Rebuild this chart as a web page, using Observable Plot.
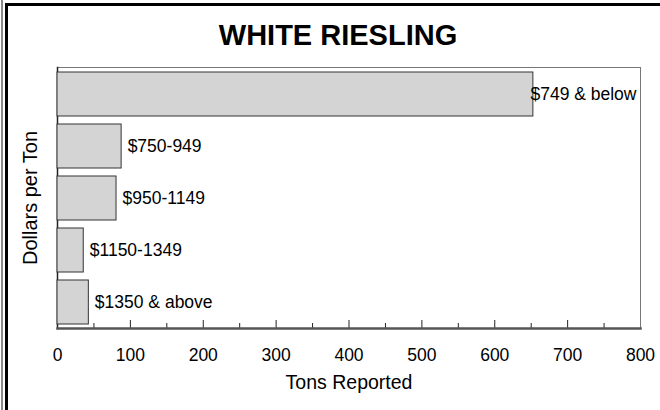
<!DOCTYPE html>
<html>
<head>
<meta charset="utf-8">
<script src="https://cdn.jsdelivr.net/npm/d3@7"></script>
<script src="https://cdn.jsdelivr.net/npm/@observablehq/plot@0.6"></script>
<style>
  html, body { margin: 0; padding: 0; background: #fff; }
  #wrap { position: relative; width: 660px; height: 410px; overflow: hidden; background: #fff; font-family: "Liberation Sans", Arial, sans-serif; }
  .edge { position: absolute; }
  #title { position: absolute; left: 0; top: 19px; width: 676px; text-align: center; font-weight: bold; font-size: 29px; color: #000; line-height: 32px; }
  #chart { position: absolute; left: 0; top: 60px; }
</style>
</head>
<body>
<div id="wrap">
  <div class="edge" style="left:1px;top:0;width:1.5px;height:410px;background:#8a8a8a"></div>
  <div class="edge" style="left:5px;top:3px;width:3px;height:407px;background:#000"></div>
  <div class="edge" style="left:5px;top:3px;width:655px;height:3px;background:#000"></div>
  <div id="title">WHITE RIESLING</div>
  <div id="chart"></div>
</div>
<script>
// Data
const categories = ["$749 & below", "$750-949", "$950-1149", "$1150-1349", "$1350 & above"];
const tons = [653, 88, 81, 36, 43];
const xTicks = [0, 100, 200, 300, 400, 500, 600, 700, 800];
const minorTicks = [50, 150, 250, 350, 450, 550, 650, 750];

const data = categories.map((c, i) => ({category: c, tons: tons[i]}));

const W = 660, H = 350;
const mTop = 7, mBottom = 82, mLeft = 57, mRight = 20;
const frameH = H - mTop - mBottom;

const chart = Plot.plot({
  width: W,
  height: H,
  marginTop: mTop,
  marginBottom: mBottom,
  marginLeft: mLeft,
  marginRight: mRight,
  style: {fontFamily: "'Liberation Sans', Arial, sans-serif", color: "#000", background: "transparent"},
  x: {domain: [0, 800]},
  y: {domain: categories, paddingInner: 0.16, paddingOuter: 0.07},
  marks: [
    Plot.frame({stroke: "#777", strokeWidth: 1}),
    Plot.frame({anchor: "left", stroke: "#222", strokeWidth: 1.5}),
    Plot.barX(data, {y: "category", x: "tons", fill: "#d4d4d4", stroke: "#333", strokeWidth: 1}),
    Plot.tickX(xTicks.slice(1, -1), {x: d => d, insetTop: frameH - 8, stroke: "#222", strokeWidth: 1}),
    Plot.tickX(minorTicks, {x: d => d, insetTop: frameH - 5, stroke: "#222", strokeWidth: 1}),
    Plot.frame({anchor: "bottom", stroke: "#555", strokeWidth: 2.5}),
    Plot.axisX({ticks: xTicks, tickSize: 0, tickPadding: 20, fontSize: 17.5, label: null, tickFormat: d => String(d)}),
    Plot.axisY({ticks: [], label: null}),
    Plot.text(data.filter(d => d.tons < 600), {y: "category", x: "tons", text: "category", textAnchor: "start", dx: 6, fontSize: 17.5, fill: "#000"}),
    Plot.text(data.filter(d => d.tons >= 600), {y: "category", x: () => 800, text: "category", textAnchor: "end", dx: -4, fontSize: 17.5, fill: "#000"}),
    Plot.text(["Tons Reported"], {frameAnchor: "bottom", dy: 60, fontSize: 19.5, fill: "#000"}),
    Plot.text(["Dollars per Ton"], {frameAnchor: "left", textAnchor: "middle", rotate: -90, dx: -27, fontSize: 20, fill: "#000"})
  ]
});
document.getElementById("chart").appendChild(chart);
</script>
</body>
</html>
